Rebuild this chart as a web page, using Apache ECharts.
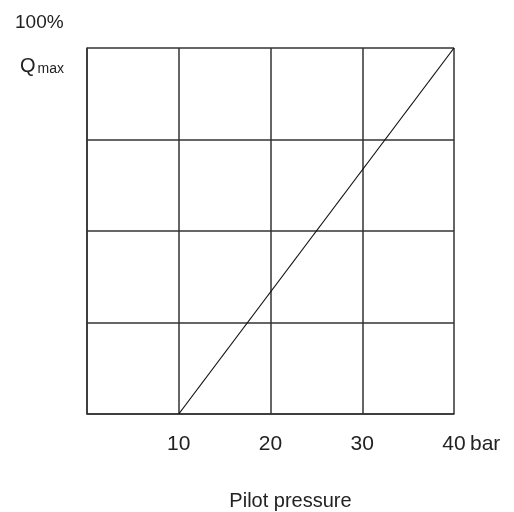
<!DOCTYPE html>
<html>
<head>
<meta charset="utf-8">
<script src="https://cdn.jsdelivr.net/npm/echarts@6/dist/echarts.min.js"></script>
<style>
  html, body { margin: 0; padding: 0; background: #fff; }
  #chart { width: 514px; height: 512px; }
</style>
</head>
<body>
<div id="chart"></div>
<script>
// Pilot pressure (bar) vs. flow as a share of Qmax (%)
const pressureTicks = [10, 20, 30, 40];
const pilotPressure = [10, 40];
const flowPercent = [0, 100];

const FONT = '"Liberation Sans", Arial, sans-serif';
const TEXT = '#222';
const GRIDC = '#333';

const chart = echarts.init(document.getElementById('chart'), null, { renderer: 'canvas' });

chart.setOption({
  animation: false,
  grid: { left: 87, right: 60, top: 48, bottom: 98, outerBoundsMode: 'none', containLabel: false },
  xAxis: {
    type: 'value',
    min: 0,
    max: 40,
    interval: 10,
    name: 'Pilot pressure',
    nameLocation: 'middle',
    nameGap: 77,
    nameTextStyle: { fontFamily: FONT, fontSize: 20, color: TEXT, padding: [0, 0, 0, 40] },
    axisLine: { show: true, lineStyle: { color: GRIDC, width: 1.5 } },
    axisTick: { show: false },
    splitLine: { show: true, lineStyle: { color: GRIDC, width: 1.5 } },
    axisLabel: {
      margin: 20,
      fontFamily: FONT,
      fontSize: 21,
      color: TEXT,
      formatter: v => (pressureTicks.includes(v) ? String(v) : '')
    }
  },
  yAxis: {
    type: 'value',
    min: 0,
    max: 100,
    interval: 25,
    axisLine: { show: true, lineStyle: { color: GRIDC, width: 1.5 } },
    axisTick: { show: false },
    axisLabel: { show: false },
    splitLine: { show: true, lineStyle: { color: GRIDC, width: 1.5 } }
  },
  graphic: [
    {
      type: 'text', left: 15, top: 13,
      style: { text: '100%', fontFamily: FONT, fontSize: 19, fill: TEXT }
    },
    {
      type: 'text', left: 20, top: 56,
      style: {
        text: '{q|Q}{s|max}',
        rich: {
          q: { fontFamily: FONT, fontSize: 20, fill: TEXT, verticalAlign: 'bottom' },
          s: { fontFamily: FONT, fontSize: 14, fill: TEXT, verticalAlign: 'bottom', padding: [0, 0, 0, 2] }
        }
      }
    },
    {
      type: 'text', left: 470, top: 434,
      style: { text: 'bar', fontFamily: FONT, fontSize: 21, fill: TEXT }
    }
  ],
  series: [{
    type: 'line',
    data: pilotPressure.map((p, i) => [p, flowPercent[i]]),
    symbol: 'none',
    lineStyle: { color: '#111', width: 1.2 },
    z: 5
  }]
});
</script>
</body>
</html>
